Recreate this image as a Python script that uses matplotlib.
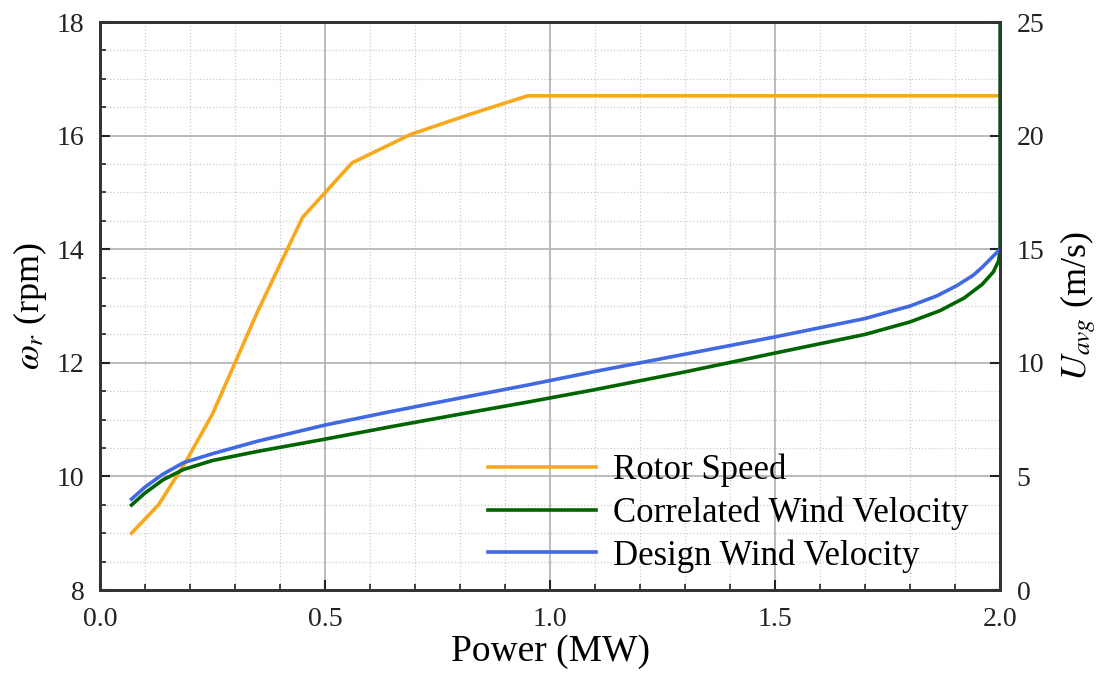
import matplotlib
matplotlib.use("Agg")
import matplotlib.pyplot as plt
from matplotlib.ticker import MultipleLocator, FormatStrFormatter

plt.rcParams['font.family'] = ['Liberation Serif', 'DejaVu Serif']
plt.rcParams['mathtext.fontset'] = 'stix'

# Rotor speed (left axis, rpm)
rotor_p = [0.07, 0.13, 0.19, 0.25, 0.30, 0.35, 0.45, 0.56, 0.69, 0.82, 0.95, 2.0]
rotor_w = [9.0, 9.5, 10.25, 11.1, 12.0, 12.9, 14.56, 15.52, 16.02, 16.37, 16.7, 16.7]

# Correlated wind velocity (right axis, m/s)
corr_p = [0.07, 0.1, 0.14, 0.185, 0.25, 0.35, 0.5, 0.65, 0.8, 0.95, 1.1, 1.3, 1.5, 1.7, 1.8, 1.867, 1.92, 1.96, 1.985, 1.997, 2.0, 2.0]
corr_u = [3.74, 4.27, 4.85, 5.3, 5.7, 6.1, 6.64, 7.2, 7.74, 8.27, 8.82, 9.6, 10.43, 11.25, 11.8, 12.3, 12.85, 13.45, 14.0, 14.5, 15.0, 25.0]

# Design wind velocity (right axis, m/s)
des_p = [0.07, 0.1, 0.14, 0.185, 0.25, 0.35, 0.5, 0.65, 0.8, 0.95, 1.1, 1.3, 1.5, 1.7, 1.8, 1.86, 1.904, 1.94, 1.96, 1.98, 2.0]
des_u = [4.0, 4.53, 5.1, 5.6, 6.0, 6.55, 7.26, 7.87, 8.45, 9.02, 9.62, 10.38, 11.14, 11.95, 12.5, 12.95, 13.4, 13.85, 14.2, 14.6, 15.0]

labels = ['Rotor Speed', 'Correlated Wind Velocity', 'Design Wind Velocity']
colors = ['#F7A81B', '#006400', '#4169E1']

fig = plt.figure(figsize=(10.99, 6.77), dpi=100)
ax = fig.add_axes([0.091, 0.1285, 0.819, 0.839])
ax2 = ax.twinx()

ax.set_xlim(0, 2.0)
ax.set_ylim(8, 18)
ax2.set_ylim(0, 25)

ax.xaxis.set_major_locator(MultipleLocator(0.5))
ax.xaxis.set_minor_locator(MultipleLocator(0.1))
ax.xaxis.set_major_formatter(FormatStrFormatter('%.1f'))
ax.yaxis.set_major_locator(MultipleLocator(2))
ax.yaxis.set_minor_locator(MultipleLocator(0.5))
ax2.yaxis.set_major_locator(MultipleLocator(5))

ax.grid(which='major', color='#b5b5b5', linewidth=1.3, linestyle='-')
ax.grid(which='minor', color='#cccccc', linewidth=0.9, linestyle=':')
ax.set_axisbelow(True)

l1, = ax.plot(rotor_p, rotor_w, color=colors[0], lw=2.6, label=labels[0])
l2, = ax2.plot(corr_p, corr_u, color=colors[1], lw=2.6, label=labels[1])
l3, = ax2.plot(des_p, des_u, color=colors[2], lw=2.6, label=labels[2])

ax.tick_params(which='both', direction='in', labelsize=20, colors='#222222')
ax.tick_params(which='major', length=7, width=1.5)
ax.tick_params(which='minor', length=4, width=1.2)
ax.tick_params(axis='x', which='major', pad=12)
ax.tick_params(axis='y', which='major', pad=11)
ax2.tick_params(which='both', direction='in', labelsize=20, colors='#222222', length=7, width=1.5, pad=12)

for a in (ax, ax2):
    for s in a.spines.values():
        s.set_color('#333333')
        s.set_linewidth(2)

ax.set_xlabel('Power (MW)', fontsize=27, labelpad=2)
ax.set_ylabel(r'$\omega_r$ (rpm)', fontsize=26, labelpad=6)
ax2.set_ylabel(r'$U_{avg}$ (m/s)', fontsize=26, labelpad=10)

leg = ax2.legend(handles=[l1, l2, l3], loc='lower right', bbox_to_anchor=(0.984, 0.0),
                 frameon=False, fontsize=25, handlelength=3.1, handletextpad=0.5,
                 labelspacing=0.27, borderaxespad=0.1)

fig.savefig('out.png', dpi=100)
